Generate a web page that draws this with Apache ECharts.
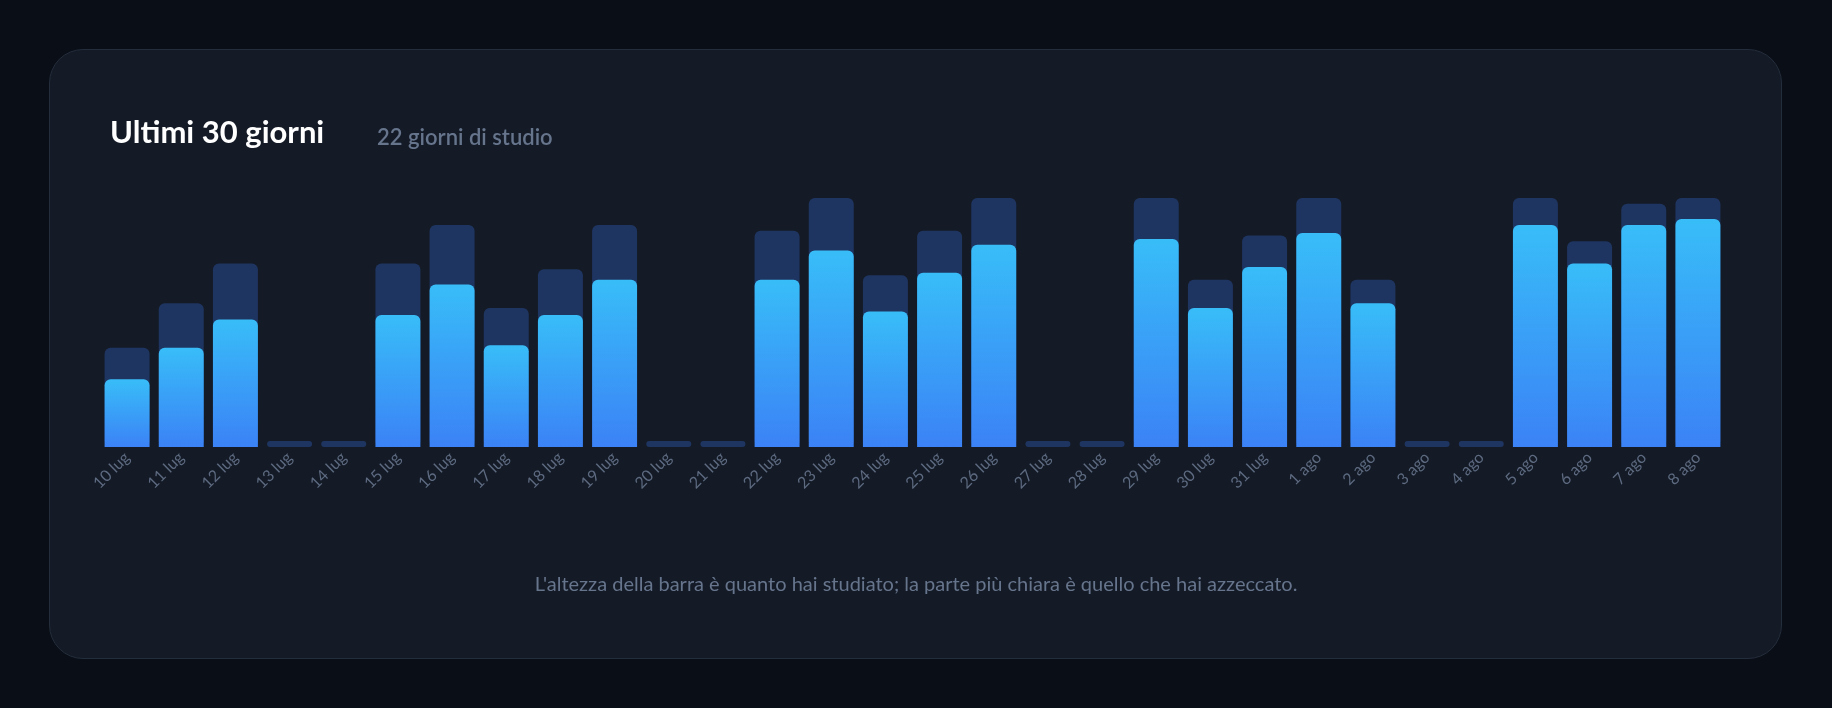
<!DOCTYPE html>
<html>
<head>
<meta charset="utf-8">
<script src="https://cdn.jsdelivr.net/npm/echarts@6/dist/echarts.min.js"></script>
<style>
  html, body { margin: 0; padding: 0; background: #0a0e17; }
  #card { position: absolute; left: 49px; top: 49px; width: 1733px; height: 610px;
          box-sizing: border-box; background: #141b27; border: 1.5px solid #242d3b; border-radius: 34px; }
  #chart { position: absolute; left: 0; top: 0; width: 1832px; height: 708px; }
</style>
</head>
<body>
<div id="card"></div>
<div id="chart"></div>
<script>
var days = ["10 lug","11 lug","12 lug","13 lug","14 lug","15 lug","16 lug","17 lug","18 lug","19 lug",
            "20 lug","21 lug","22 lug","23 lug","24 lug","25 lug","26 lug","27 lug","28 lug","29 lug",
            "30 lug","31 lug","1 ago","2 ago","3 ago","4 ago","5 ago","6 ago","7 ago","8 ago"];
var studied = [85,123,157,0,0,157,190,119,152,190,0,0,185,213,147,185,213,0,0,213,
               143,181,213,143,0,0,213,176,208,213];
var correct = [58,85,109,0,0,113,139,87,113,143,0,0,143,168,116,149,173,0,0,178,
               119,154,183,123,0,0,190,157,190,195];

var chart = echarts.init(document.getElementById("chart"));
var font = "Lato, 'Noto Sans', sans-serif";
var option = {
    backgroundColor: "transparent",
    textStyle: { fontFamily: font },
    title: [
        { text: "Ultimi 30 giorni", left: 105, top: 112,
          textStyle: { color: "#ffffff", fontSize: 31, fontWeight: "bold", fontFamily: font } },
        { text: "22 giorni di studio", left: 372, top: 122,
          textStyle: { color: "#66748c", fontSize: 22, fontWeight: 600, fontFamily: font } },
        { text: "L'altezza della barra è quanto hai studiato; la parte più chiara è quello che hai azzeccato.",
          left: "center", top: 570,
          textStyle: { color: "#66748c", fontSize: 20, fontWeight: "normal", fontFamily: font } }
    ],
    grid: { left: 100, right: 107, top: 198, bottom: 261 },
    xAxis: {
        type: "category",
        data: days,
        axisLine: { show: false },
        axisTick: { show: false },
        axisLabel: { rotate: 45, color: "#5d6a80", fontSize: 16, margin: 8, interval: 0 }
    },
    yAxis: { type: "value", min: 0, max: 213, show: false, splitLine: { show: false } },
    series: [
        {
            name: "studiato", type: "bar", data: studied, barWidth: "83%", barGap: "-100%",
            barMinHeight: 6, itemStyle: { color: "#1f3561", borderRadius: 6 }
        },
        {
            name: "azzeccato", type: "bar", data: correct, barWidth: "83%",
            itemStyle: {
                borderRadius: [6, 6, 0, 0],
                color: new echarts.graphic.LinearGradient(0, 0, 0, 1, [
                    { offset: 0, color: "#38bdf8" }, { offset: 1, color: "#3b82f6" }
                ])
            }
        }
    ],
    animation: false
};
chart.setOption(option);
</script>
</body>
</html>
